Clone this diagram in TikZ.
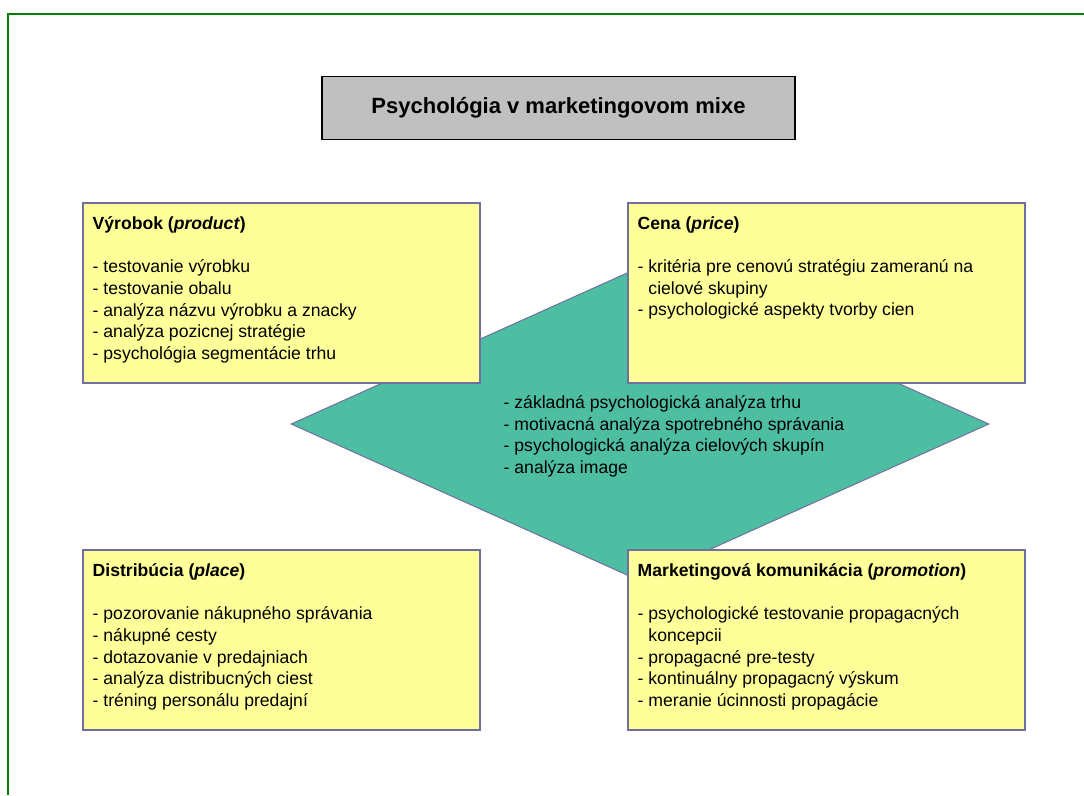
\documentclass[tikz,border=0pt]{standalone}
\usepackage{fontspec}
\setmainfont{Liberation Sans}
\usetikzlibrary{positioning,shapes.geometric}

\definecolor{frameg}{HTML}{008000}
\definecolor{boxfill}{HTML}{FFFF99}
\definecolor{boxline}{HTML}{6F6FA0}
\definecolor{coreteal}{HTML}{4DBEA2}
\definecolor{titlefill}{HTML}{C0C0C0}

\begin{document}
\begin{tikzpicture}[
    x=1pt, y=-1pt,
    node distance=148pt,
    mixbox/.style={rectangle,draw=boxline,fill=boxfill,line width=1.2pt,
      minimum width=397pt,minimum height=180pt,inner sep=0pt,outer sep=0pt},
    mixtext/.style={anchor=north west,align=left,inner sep=0pt,
      font=\fontsize{17.6}{21.6}\selectfont}
  ]
  \useasboundingbox (0,0) rectangle (1084,795);
  \draw[frameg,line width=2.6pt] (8,795) -- (8,14) -- (1084,14);

  \node (core) [diamond,draw=boxline,fill=coreteal,line width=1pt,
    minimum width=698pt,minimum height=314pt,inner sep=0pt] at (640,424) {};
  \node (coretext) [mixtext] at (503.5,395.5) {- základná psychologická analýza trhu\\
    - motivacná analýza spotrebného správania\\
    - psychologická analýza cielových skupín\\
    - analýza image};

  \node (title) [rectangle,draw=black,fill=titlefill,line width=1.5pt,
    minimum width=473pt,minimum height=63pt,
    font=\fontsize{22}{26}\selectfont\bfseries] at (558.5,108)
    {Psychológia v marketingovom mixe};

  \node (product)   [mixbox,anchor=north west] at (83,203) {};
  \node (price)     [mixbox,right=of product] {};
  \node (place)     [mixbox,below=167pt of product] {};
  \node (promotion) [mixbox,right=of place] {};

  \node (producttext) [mixtext] at ([xshift=9.5pt,yshift=-13.5pt]product.north west)
    {\textbf{Výrobok (\textit{product})}\\[21.6pt]
    - testovanie výrobku\\
    - testovanie obalu\\
    - analýza názvu výrobku a znacky\\
    - analýza pozicnej stratégie\\
    - psychológia segmentácie trhu};
  \node (pricetext) [mixtext] at ([xshift=9.5pt,yshift=-13.5pt]price.north west)
    {\textbf{Cena (\textit{price})}\\[21.6pt]
    - kritéria pre cenovú stratégiu zameranú na\\
    \phantom{- }cielové skupiny\\
    - psychologické aspekty tvorby cien};
  \node (placetext) [mixtext] at ([xshift=9.5pt,yshift=-13.5pt]place.north west)
    {\textbf{Distribúcia (\textit{place})}\\[21.6pt]
    - pozorovanie nákupného správania\\
    - nákupné cesty\\
    - dotazovanie v predajniach\\
    - analýza distribucných ciest\\
    - tréning personálu predajní};
  \node (promotiontext) [mixtext] at ([xshift=9.5pt,yshift=-13.5pt]promotion.north west)
    {\textbf{Marketingová komunikácia (\textit{promotion})}\\[21.6pt]
    - psychologické testovanie propagacných\\
    \phantom{- }koncepcii\\
    - propagacné pre-testy\\
    - kontinuálny propagacný výskum\\
    - meranie úcinnosti propagácie};
\end{tikzpicture}
\end{document}
